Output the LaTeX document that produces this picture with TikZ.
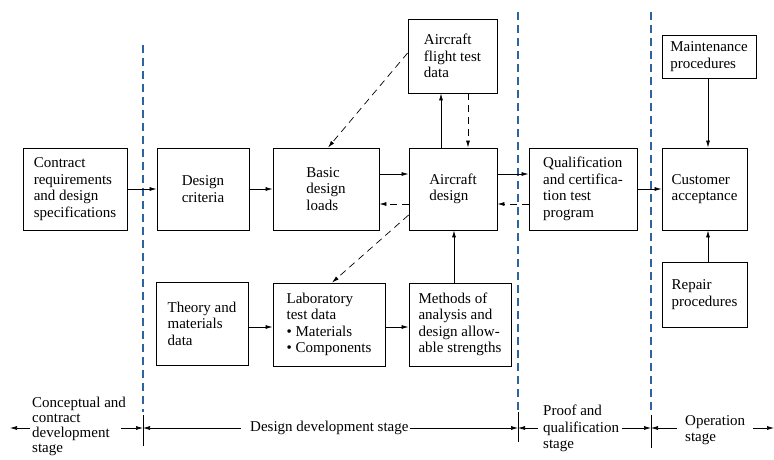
\documentclass[tikz,border=0pt]{standalone}
\usepackage{fontspec}
\setmainfont{Liberation Serif}
\usetikzlibrary{arrows.meta}
\definecolor{stageblue}{RGB}{45,100,160}
\tikzset{
  box/.style={draw, line width=0.8pt, align=left, inner sep=2pt, font=\fontsize{15}{16.5}\selectfont},
  arr/.style={line width=0.7pt, -{Latex[length=7pt,width=4pt]}},
  darr/.style={arr, dash pattern=on 7pt off 5pt},
  stageb/.style={draw=stageblue, line width=1.2pt, dash pattern=on 8pt off 5pt},
  tick/.style={line width=0.8pt},
  lbl/.style={align=left, font=\fontsize{15}{16.5}\selectfont, inner sep=1pt},
}
\begin{document}
\begin{tikzpicture}[x=1pt,y=-1pt]
\useasboundingbox (0,0) rectangle (774,459);
% boxes
\node[box, minimum width=104pt, minimum height=82pt] (contract) at (75,189) {Contract\\requirements\\and design\\specifications};
\node[box, minimum width=92pt, minimum height=82pt] (criteria) at (203,189) {Design\\criteria};
\node[box, minimum width=106pt, minimum height=82pt] (loads) at (326,189) {Basic\\design\\loads};
\node[box, minimum width=89pt, minimum height=74pt] (flight) at (452.5,56) {Aircraft\\flight test\\data};
\node[box, minimum width=88pt, minimum height=82pt] (design) at (453,189) {Aircraft\\design};
\node[box, minimum width=108pt, minimum height=82pt] (qual) at (583,189) {Qualification\\and certifica-\\tion test\\program};
\node[box, minimum width=85pt, minimum height=82pt] (cust) at (704.5,189) {Customer\\acceptance};
\node[box, minimum width=94pt, minimum height=43pt] (maint) at (709,56.5) {Maintenance\\procedures};
\node[box, minimum width=85pt, minimum height=65pt] (repair) at (704.5,294.5) {Repair\\procedures};
\node[box, minimum width=92pt, minimum height=83pt] (theory) at (202,323.5) {Theory and\\materials\\data};
\node[box, minimum width=112pt, minimum height=83pt] (lab) at (329,324.5) {Laboratory\\test data\\\textbullet\ Materials\\\textbullet\ Components};
\node[box, minimum width=102pt, minimum height=83pt] (methods) at (460,324.5) {Methods of\\analysis and\\design allow-\\able strengths};
% stage lines
\coordinate (s1t) at (143,45); \coordinate (s1b) at (143,412);
\coordinate (s2t) at (518,12); \coordinate (s2b) at (518,410);
\coordinate (s3t) at (651,12); \coordinate (s3b) at (651,412);
\draw[stageb] (s1t) -- (s1b);
\draw[stageb] (s2t) -- (s2b);
\draw[stageb] (s3t) -- (s3b);
% connectors
\draw[arr] (contract.east) -- (criteria.west);
\draw[arr] (criteria.east) -- (loads.west);
\draw[arr] ([yshift=15pt]loads.east) -- ([yshift=15pt]design.west);
\draw[darr] ([yshift=-15pt]design.west) -- ([yshift=-15pt]loads.east);
\draw[arr] (design.north -| 441,0) -- (flight.south -| 441,0);
\draw[darr] (flight.south -| 468,0) -- (design.north -| 468,0);
\draw[darr] (flight.west |- 0,53) -- (loads.north -| 328,0);
\draw[darr] (design.west |- 0,215) -- (lab.north -| 332,0);
\draw[arr] ([yshift=15pt]design.east) -- ([yshift=15pt]qual.west);
\draw[darr] ([yshift=-15pt]qual.west) -- ([yshift=-15pt]design.east);
\draw[arr] (qual.east) -- (cust.west);
\draw[arr] (maint.south -| 708,0) -- (cust.north -| 708,0);
\draw[arr] (repair.north -| 708,0) -- (cust.south -| 708,0);
\draw[arr] (theory.east |- 0,327) -- (lab.west |- 0,327);
\draw[arr] (lab.east |- 0,327) -- (methods.west |- 0,327);
\draw[arr] (methods.north -| 454,0) -- (design.south -| 454,0);
% bottom stage labels
\coordinate (t1a) at (143,415); \coordinate (t1b) at (143,446);
\coordinate (t2a) at (518,412); \coordinate (t2b) at (518,442);
\coordinate (t3a) at (651,415); \coordinate (t3b) at (651,448);
\draw[tick] (t1a) -- (t1b);
\draw[tick] (t2a) -- (t2b);
\draw[tick] (t3a) -- (t3b);
\node[lbl, anchor=north west, font=\fontsize{15}{15}\selectfont] (conc) at (31,396) {Conceptual and\\contract\\development\\stage};
\node[lbl, anchor=west] (dev) at (249,428) {Design development stage};
\node[lbl, anchor=north west] (proof) at (542,404) {Proof and\\qualification\\stage};
\node[lbl, anchor=north west] (oper) at (684,414) {Operation\\stage};
\coordinate (lend) at (10,428); \coordinate (rend) at (774,428);
\draw[arr] (30,428) -- (lend);
\draw[arr] (121,428) -- (t1a |- 0,428);
\draw[arr] (241,428) -- (t1a |- 0,428);
\draw[arr] (dev.east) -- (t2a |- 0,428);
\draw[arr] (538,428) -- (t2a |- 0,428);
\draw[arr] (622,428) -- (t3a |- 0,428);
\draw[arr] (677,428) -- (t3a |- 0,428);
\draw[arr] (753,428) -- (rend);
\end{tikzpicture}
\end{document}
